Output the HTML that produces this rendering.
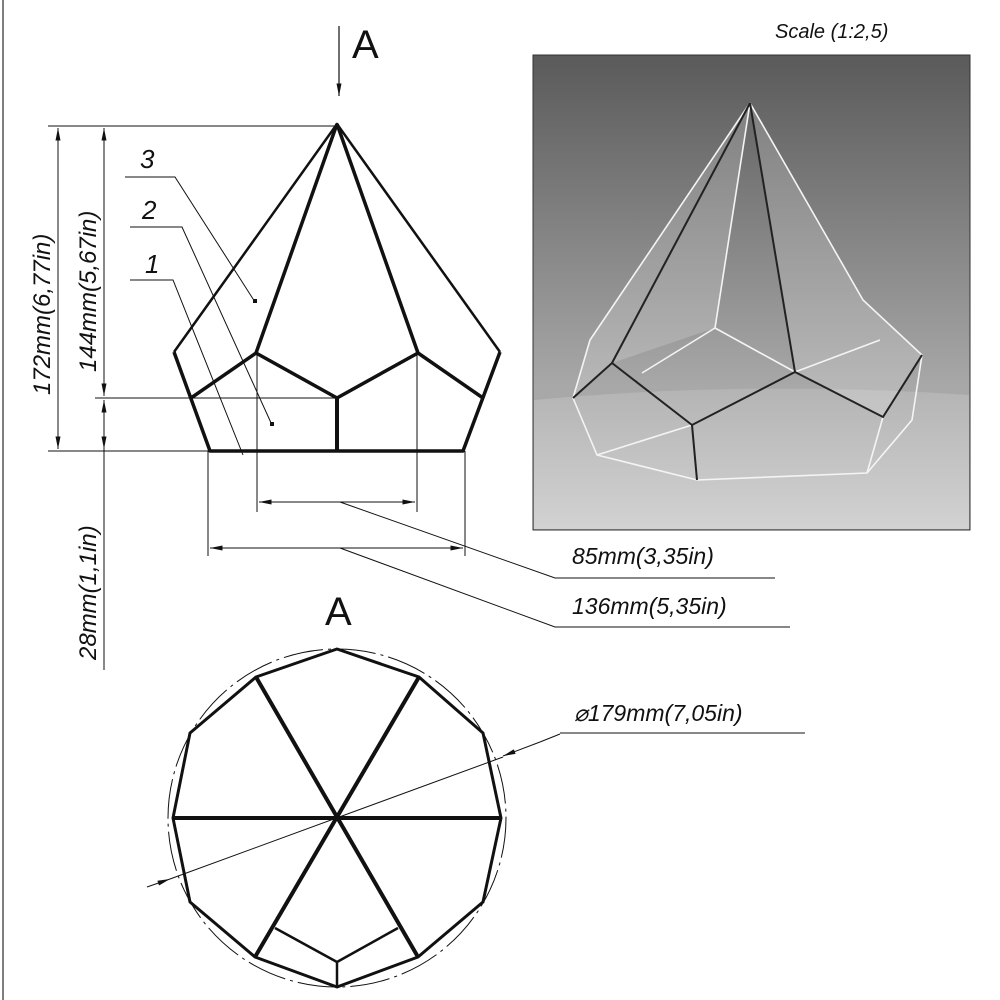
<!DOCTYPE html>
<html><head><meta charset="utf-8"><style>
html,body{margin:0;padding:0;background:#fff;}
svg{display:block}
text{font-family:"Liberation Sans",sans-serif;font-style:italic;fill:#111}
</style></head><body>
<svg width="1000" height="1000" viewBox="0 0 1000 1000" xmlns="http://www.w3.org/2000/svg">
<defs>
<linearGradient id="bg" x1="0" y1="0" x2="0" y2="1">
<stop offset="0" stop-color="#5a5a5a"/><stop offset="0.7" stop-color="#a8a8a8"/></linearGradient>
<linearGradient id="fl" x1="0" y1="0" x2="0" y2="1">
<stop offset="0" stop-color="#b4b4b4"/><stop offset="1" stop-color="#d2d2d2"/></linearGradient>
<marker id="ar" viewBox="0 0 10 4" refX="10" refY="2" markerWidth="14" markerHeight="5" orient="auto-start-reverse" markerUnits="userSpaceOnUse"><path d="M0,0 L10,2 L0,4 z" fill="#111"/></marker>
</defs>
<line x1="3" y1="0" x2="3" y2="1000" stroke="#555" stroke-width="1.5"/>
<line x1="339" y1="26" x2="339" y2="96" stroke="#111" stroke-width="1.2" marker-end="url(#ar)"/>
<text x="352" y="58" font-size="40" style="font-style:normal" fill="#111">A</text>
<text x="325" y="625" font-size="40" style="font-style:normal">A</text>

<g stroke="#111" stroke-width="1" fill="none">
<line x1="48" y1="126" x2="335" y2="126"/>
<line x1="48" y1="451" x2="210" y2="451"/>
<line x1="95" y1="398" x2="337" y2="398"/>
<line x1="58" y1="128" x2="58" y2="449" marker-start="url(#ar)" marker-end="url(#ar)"/>
<line x1="104" y1="128" x2="104" y2="396" marker-start="url(#ar)" marker-end="url(#ar)"/>
<line x1="104" y1="400" x2="104" y2="449" marker-start="url(#ar)" marker-end="url(#ar)"/>
<line x1="104" y1="449" x2="104" y2="670"/>
<line x1="208" y1="451" x2="208" y2="556"/>
<line x1="465" y1="451" x2="465" y2="556"/>
<line x1="257" y1="353" x2="257" y2="512"/>
<line x1="417" y1="353" x2="417" y2="512"/>
<line x1="259" y1="502" x2="415" y2="502" marker-start="url(#ar)" marker-end="url(#ar)"/>
<line x1="210" y1="548" x2="463" y2="548" marker-start="url(#ar)" marker-end="url(#ar)"/>
<polyline points="340,502 555,578 775,578"/>
<polyline points="340,548 555,627 790,627"/>
<polyline points="125,177 175,177 255,302"/>
<polyline points="130,227 182,227 272,425"/>
<polyline points="130,280 173,280 243,455"/>
<line x1="147" y1="887" x2="170" y2="879" marker-end="url(#ar)"/>
<line x1="170" y1="879" x2="503" y2="757"/>
<line x1="540" y1="742" x2="503" y2="756" marker-end="url(#ar)"/>
<line x1="540" y1="742" x2="560" y2="734"/>
<line x1="560" y1="733" x2="805" y2="733"/>
</g>
<rect x="253" y="299" width="4" height="4" fill="#111"/>
<rect x="270" y="422" width="4" height="4" fill="#111"/>

<text transform="translate(50,395) rotate(-90)" font-size="24">172mm(6,77in)</text>
<text transform="translate(96,372) rotate(-90)" font-size="24">144mm(5,67in)</text>
<text transform="translate(96,660) rotate(-90)" font-size="24">28mm(1,1in)</text>
<text x="140" y="168" font-size="26">3</text>
<text x="142" y="219" font-size="26">2</text>
<text x="145" y="273" font-size="26">1</text>
<text x="572" y="564" font-size="23">85mm(3,35in)</text>
<text x="572" y="614" font-size="23">136mm(5,35in)</text>
<text x="574" y="721" font-size="23">⌀179mm(7,05in)</text>
<text x="775" y="38" font-size="20" fill="#333">Scale (1:2,5)</text>

<g stroke="#111" fill="none" stroke-linejoin="round">
<polyline points="174,352 337,124 500,352" stroke-width="2.5"/>
<line x1="337" y1="124" x2="256" y2="353" stroke-width="3.5"/>
<line x1="337" y1="124" x2="418" y2="353" stroke-width="3.5"/>
<polyline points="191,398 256,353 337,398 418,353 483,398" stroke-width="3.5"/>
<polyline points="174,352 210,451 463,451 500,352" stroke-width="3.5"/>
<line x1="337" y1="398" x2="337" y2="451" stroke-width="4"/>
</g>

<circle cx="337" cy="818" r="169" fill="none" stroke="#111" stroke-width="1" stroke-dasharray="40,5,3,5"/>
<g stroke="#111" fill="none" stroke-linejoin="round">
<polygon points="337,649 419,677 483,733 501,818 483,902 418,957 337,987 255,957 190,902 173,818 190,733 256,677" stroke-width="3"/>
<line x1="173" y1="818" x2="501" y2="818" stroke-width="4"/>
<line x1="256" y1="677" x2="418" y2="957" stroke-width="4"/>
<line x1="419" y1="677" x2="255" y2="957" stroke-width="4"/>
<polyline points="275,928 337,962 398,928" stroke-width="2.5"/>
<line x1="337" y1="962" x2="337" y2="987" stroke-width="2.5"/>
</g>

<rect x="533" y="55" width="437" height="475" fill="url(#bg)" stroke="#333" stroke-width="1"/>
<path d="M534,400 Q750,380 969,395 L969,529 L534,529 Z" fill="url(#fl)"/>
<g fill="rgba(255,255,255,0.18)" stroke="none">
<polygon points="750,103 590,340 573,398 612,363 715,328"/>
<polygon points="750,103 863,300 922,355 883,417 795,372"/>
</g>
<g stroke="#f4f4f4" stroke-width="1.6" fill="none">
<line x1="750" y1="103" x2="715" y2="328"/>
<polyline points="715,328 642,373"/>
<polyline points="715,328 795,372 880,340"/>
<polyline points="750,103 590,340 573,398 597,455 697,480 867,473 912,420 922,355 863,300 750,103"/>
<line x1="597" y1="455" x2="692" y2="425"/>
<line x1="867" y1="473" x2="883" y2="417"/>
</g>
<g stroke="#222" stroke-width="2" fill="none">
<line x1="750" y1="103" x2="612" y2="363"/>
<line x1="750" y1="103" x2="795" y2="372"/>
<polyline points="573,398 612,363 692,425 795,372 883,417 922,355"/>
<line x1="692" y1="425" x2="697" y2="480"/>
</g>
</svg>
</body></html>
